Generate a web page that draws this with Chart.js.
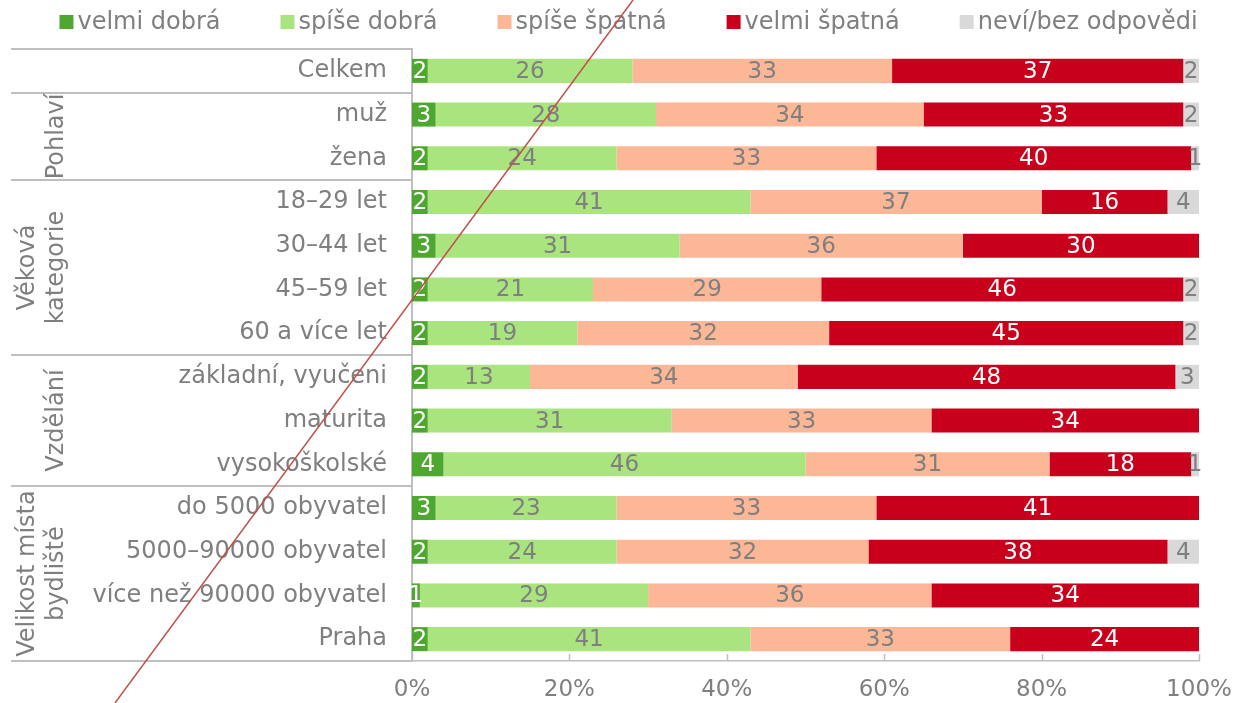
<!DOCTYPE html>
<html lang="cs">
<head>
    <meta charset="UTF-8">
    <title>Hodnocení</title>
    <script src="https://cdn.jsdelivr.net/npm/chart.js"></script>
    <style>
        body {
            margin: 0;
            padding: 0;
            background: #ffffff;
        }
        .wrap {
            width: 1245px;
            height: 703px;
            position: relative;
        }
    </style>
</head>
<body>
    <div class="wrap">
        <canvas id="chart"></canvas>
    </div>

    <script>
        // Kategorie (řádky grafu)
        const categories = [
            'Celkem', 'muž', 'žena',
            '18–29 let', '30–44 let', '45–59 let', '60 a více let',
            'základní, vyučeni', 'maturita', 'vysokoškolské',
            'do 5000 obyvatel', '5000–90000 obyvatel', 'více než 90000 obyvatel', 'Praha'
        ];

        // Skupiny kategorií (svislé popisky vlevo)
        const groupNames = [['Pohlaví'], ['Věková', 'kategorie'], ['Vzdělání'], ['Velikost místa', 'bydliště']];
        const groupStart = [1, 3, 7, 10];
        const groupEnd = [2, 6, 9, 13];

        // Hodnoty v %
        const velmiDobra   = [2, 3, 2, 2, 3, 2, 2, 2, 2, 4, 3, 2, 1, 2];
        const spiseDobra   = [26, 28, 24, 41, 31, 21, 19, 13, 31, 46, 23, 24, 29, 41];
        const spiseSpatna  = [33, 34, 33, 37, 36, 29, 32, 34, 33, 31, 33, 32, 36, 33];
        const velmiSpatna  = [37, 33, 40, 16, 30, 46, 45, 48, 34, 18, 41, 38, 34, 24];
        const nevi         = [2, 2, 1, 4, 0, 2, 2, 3, 0, 1, 0, 4, 0, 0];

        const seriesNames = ['velmi dobrá', 'spíše dobrá', 'spíše špatná', 'velmi špatná', 'neví/bez odpovědi'];
        const seriesColors = ['#4EA72E', '#A9E47F', '#FCB797', '#C9001C', '#D9D9D9'];
        const labelColors = ['#ffffff', '#7F7F7F', '#7F7F7F', '#ffffff', '#7F7F7F'];
        const xTicks = [0, 20, 40, 60, 80, 100];

        const FONT = "'DejaVu Sans', Verdana, sans-serif";
        const GREY = '#7F7F7F';
        const LINE = '#BFBFBF';

        // vlastní legenda nahoře
        const legendPlugin = {
            id: 'topLegend',
            afterDraw(chart) {
                const ctx = chart.ctx;
                ctx.save();
                ctx.font = '24px ' + FONT;
                const box = 14, gapBox = 4, gapItem = 60;
                const widths = seriesNames.map(n => box + gapBox + ctx.measureText(n).width);
                const total = widths.reduce((a, b) => a + b, 0) + gapItem * (widths.length - 1);
                let x = (chart.width - total) / 2 + 6;
                const y = 22;
                ctx.textBaseline = 'middle';
                ctx.textAlign = 'left';
                seriesNames.forEach((n, i) => {
                    ctx.fillStyle = seriesColors[i];
                    ctx.fillRect(x, y - box / 2, box, box);
                    ctx.fillStyle = GREY;
                    ctx.fillText(n, x + box + gapBox, y + 1);
                    x += widths[i] + gapItem;
                });
                ctx.restore();
            }
        };

        // popisky hodnot v segmentech
        const valuePlugin = {
            id: 'values',
            afterDatasetsDraw(chart) {
                const ctx = chart.ctx;
                ctx.save();
                ctx.font = '23px ' + FONT;
                ctx.textAlign = 'center';
                ctx.textBaseline = 'middle';
                chart.data.datasets.forEach((ds, di) => {
                    const meta = chart.getDatasetMeta(di);
                    meta.data.forEach((el, i) => {
                        const v = ds.data[i];
                        if (!v) return;
                        ctx.fillStyle = labelColors[di];
                        ctx.fillText(String(v), (el.x + el.base) / 2, el.y + 1);
                    });
                });
                ctx.restore();
            }
        };

        // skupiny vlevo, dělicí čáry, značky osy x
        const groupPlugin = {
            id: 'groups',
            afterDraw(chart) {
                const ctx = chart.ctx;
                const yScale = chart.scales.y;
                const xScale = chart.scales.x;
                const area = chart.chartArea;
                ctx.save();

                // dělicí čáry
                const bounds = [area.top, area.bottom];
                groupStart.forEach(s => {
                    bounds.push((yScale.getPixelForValue(s - 1) + yScale.getPixelForValue(s)) / 2);
                });
                ctx.strokeStyle = LINE;
                ctx.lineWidth = 2;
                bounds.forEach(b => {
                    ctx.beginPath();
                    ctx.moveTo(11, Math.round(b));
                    ctx.lineTo(area.left, Math.round(b));
                    ctx.stroke();
                });

                // značky na ose x (dovnitř)
                ctx.lineWidth = 1.5;
                xTicks.forEach(t => {
                    const px = Math.round(xScale.getPixelForValue(t)) + 0.5;
                    ctx.beginPath();
                    ctx.moveTo(px, area.bottom);
                    ctx.lineTo(px, area.bottom - 7);
                    ctx.stroke();
                });

                // svislé názvy skupin
                ctx.fillStyle = GREY;
                ctx.font = '24px ' + FONT;
                ctx.textAlign = 'center';
                ctx.textBaseline = 'middle';
                groupNames.forEach((lines, g) => {
                    const cy = (yScale.getPixelForValue(groupStart[g]) + yScale.getPixelForValue(groupEnd[g])) / 2;
                    lines.forEach((ln, li) => {
                        const cx = 57 - (lines.length - 1 - li) * 29;
                        ctx.save();
                        ctx.translate(cx, cy);
                        ctx.rotate(-Math.PI / 2);
                        ctx.fillText(ln, 0, 0);
                        ctx.restore();
                    });
                });

                // červená šikmá čára přes graf
                ctx.strokeStyle = '#C0504D';
                ctx.lineWidth = 1.5;
                ctx.beginPath();
                ctx.moveTo(115, chart.height);
                ctx.lineTo(633, 0);
                ctx.stroke();

                ctx.restore();
            }
        };

        const seriesData = [velmiDobra, spiseDobra, spiseSpatna, velmiSpatna, nevi];

        new Chart(document.getElementById('chart'), {
            type: 'bar',
            data: {
                labels: categories,
                datasets: seriesData.map((d, i) => ({
                    label: seriesNames[i],
                    data: d,
                    backgroundColor: seriesColors[i],
                    borderWidth: 0,
                    categoryPercentage: 1,
                    barPercentage: 0.55
                }))
            },
            options: {
                indexAxis: 'y',
                responsive: true,
                maintainAspectRatio: false,
                animation: false,
                layout: {
                    padding: { top: 49, right: 46, bottom: 0, left: 0 }
                },
                plugins: {
                    legend: { display: false },
                    tooltip: { enabled: false }
                },
                scales: {
                    x: {
                        stacked: true,
                        min: 0,
                        max: 100,
                        afterBuildTicks: (scale) => {
                            scale.ticks = xTicks.map(v => ({ value: v }));
                        },
                        afterFit: (scale) => {
                            scale.height = 42;
                            scale.paddingRight = 0;
                            scale.paddingLeft = 0;
                        },
                        ticks: {
                            callback: (v) => v + '%',
                            color: GREY,
                            font: { family: FONT, size: 23 },
                            padding: 15,
                            maxRotation: 0
                        },
                        grid: { display: false, drawTicks: false },
                        border: { display: true, color: LINE, width: 1.5 }
                    },
                    y: {
                        stacked: true,
                        afterFit: (scale) => { scale.width = 412; },
                        ticks: {
                            color: GREY,
                            font: { family: FONT, size: 24 },
                            padding: 17,
                            autoSkip: false
                        },
                        grid: { display: false },
                        border: { display: true, color: LINE, width: 2 }
                    }
                }
            },
            plugins: [legendPlugin, valuePlugin, groupPlugin]
        });
    </script>
</body>
</html>
